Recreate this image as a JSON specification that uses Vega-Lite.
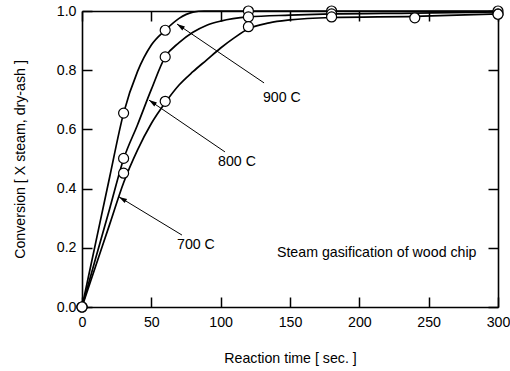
{
  "$schema": "https://vega.github.io/schema/vega-lite/v6.json",
  "autosize": "none",
  "width": 416,
  "height": 296,
  "padding": {"left": 82, "top": 11, "right": 12, "bottom": 64},
  "background": "white",
  "config": {
    "view": {"stroke": null},
    "font": "Liberation Sans",
    "axis": {
      "domainColor": "black", "domainWidth": 1.6,
      "tickColor": "black", "tickWidth": 1.5, "tickSize": -10,
      "labelFont": "Liberation Sans", "labelFontSize": 14.2, "labelColor": "black", "labelFlush": false,
      "titleFont": "Liberation Sans", "titleFontSize": 14.2, "titleColor": "black", "titleFontWeight": "normal",
      "grid": false
    }
  },
  "datasets": {
    "curves": [
      {"series": "900 C", "t": 0, "v": 0},
      {"series": "900 C", "t": 10, "v": 0.22},
      {"series": "900 C", "t": 20, "v": 0.44},
      {"series": "900 C", "t": 30, "v": 0.655},
      {"series": "900 C", "t": 40, "v": 0.795},
      {"series": "900 C", "t": 50, "v": 0.885},
      {"series": "900 C", "t": 60, "v": 0.935},
      {"series": "900 C", "t": 70, "v": 0.975},
      {"series": "900 C", "t": 80, "v": 0.996},
      {"series": "900 C", "t": 88, "v": 1.0},
      {"series": "900 C", "t": 120, "v": 1.0},
      {"series": "900 C", "t": 180, "v": 1.0},
      {"series": "900 C", "t": 300, "v": 1.0},
      {"series": "800 C", "t": 0, "v": 0},
      {"series": "800 C", "t": 10, "v": 0.167},
      {"series": "800 C", "t": 20, "v": 0.333},
      {"series": "800 C", "t": 30, "v": 0.5},
      {"series": "800 C", "t": 40, "v": 0.615},
      {"series": "800 C", "t": 50, "v": 0.735},
      {"series": "800 C", "t": 60, "v": 0.845},
      {"series": "800 C", "t": 70, "v": 0.893},
      {"series": "800 C", "t": 80, "v": 0.928},
      {"series": "800 C", "t": 90, "v": 0.952},
      {"series": "800 C", "t": 100, "v": 0.966},
      {"series": "800 C", "t": 120, "v": 0.98},
      {"series": "800 C", "t": 150, "v": 0.986},
      {"series": "800 C", "t": 180, "v": 0.99},
      {"series": "800 C", "t": 240, "v": 0.993},
      {"series": "800 C", "t": 300, "v": 0.997},
      {"series": "700 C", "t": 0, "v": 0},
      {"series": "700 C", "t": 10, "v": 0.14},
      {"series": "700 C", "t": 20, "v": 0.28},
      {"series": "700 C", "t": 30, "v": 0.42},
      {"series": "700 C", "t": 40, "v": 0.53},
      {"series": "700 C", "t": 50, "v": 0.62},
      {"series": "700 C", "t": 60, "v": 0.69},
      {"series": "700 C", "t": 70, "v": 0.75},
      {"series": "700 C", "t": 80, "v": 0.795},
      {"series": "700 C", "t": 90, "v": 0.835},
      {"series": "700 C", "t": 100, "v": 0.875},
      {"series": "700 C", "t": 110, "v": 0.91},
      {"series": "700 C", "t": 120, "v": 0.94},
      {"series": "700 C", "t": 135, "v": 0.96},
      {"series": "700 C", "t": 150, "v": 0.97},
      {"series": "700 C", "t": 180, "v": 0.978},
      {"series": "700 C", "t": 240, "v": 0.982},
      {"series": "700 C", "t": 300, "v": 0.99}
    ],
    "points": [
      {"series": "900 C", "t": 0, "v": 0},
      {"series": "900 C", "t": 30, "v": 0.655},
      {"series": "900 C", "t": 60, "v": 0.935},
      {"series": "900 C", "t": 120, "v": 1.0},
      {"series": "900 C", "t": 180, "v": 1.0},
      {"series": "900 C", "t": 300, "v": 1.0},
      {"series": "800 C", "t": 0, "v": 0},
      {"series": "800 C", "t": 30, "v": 0.502},
      {"series": "800 C", "t": 60, "v": 0.845},
      {"series": "800 C", "t": 120, "v": 0.98},
      {"series": "800 C", "t": 180, "v": 0.99},
      {"series": "800 C", "t": 300, "v": 0.99},
      {"series": "700 C", "t": 0, "v": 0},
      {"series": "700 C", "t": 30, "v": 0.452},
      {"series": "700 C", "t": 60, "v": 0.695},
      {"series": "700 C", "t": 120, "v": 0.947},
      {"series": "700 C", "t": 180, "v": 0.98},
      {"series": "700 C", "t": 240, "v": 0.977},
      {"series": "700 C", "t": 300, "v": 0.989}
    ],
    "arrows": [
      {"series": "900 C", "t1": 131.3, "v1": 0.757, "t2": 68.5, "v2": 0.956},
      {"series": "800 C", "t1": 103.1, "v1": 0.524, "t2": 48.3, "v2": 0.699},
      {"series": "700 C", "t1": 72.1, "v1": 0.243, "t2": 26.7, "v2": 0.372}
    ],
    "labels": [
      {"text": "900 C", "t": 130.5, "v": 0.706},
      {"text": "800 C", "t": 98.1, "v": 0.491},
      {"text": "700 C", "t": 68.5, "v": 0.209},
      {"text": "Steam gasification of wood chip", "t": 140.6, "v": 0.182}
    ]
  },
  "resolve": {"axis": {"x": "independent", "y": "independent"}},
  "layer": [
    {
      "data": {"name": "curves"},
      "mark": {"type": "line", "color": "black", "strokeWidth": 1.7, "interpolate": "monotone", "clip": false},
      "encoding": {
        "x": {"field": "t", "type": "quantitative", "scale": {"domain": [0, 300], "nice": false},
          "axis": {"orient": "bottom", "values": [0, 50, 100, 150, 200, 250, 300], "format": "d", "labelPadding": 18,
            "title": "Reaction time [ sec. ]", "titleY": 51, "titleBaseline": "middle"}},
        "y": {"field": "v", "type": "quantitative", "scale": {"domain": [0, 1], "nice": false},
          "axis": {"orient": "left", "values": [0, 0.2, 0.4, 0.6, 0.8, 1.0], "format": ".1f", "labelPadding": 16,
            "title": "Conversion [ X steam, dry-ash ]", "titleX": -62, "titleBaseline": "middle"}},
        "detail": {"field": "series"}
      }
    },
    {
      "data": {"name": "arrows"},
      "mark": {"type": "rule", "color": "black", "strokeWidth": 1},
      "encoding": {
        "x": {"field": "t1", "type": "quantitative", "axis": {"orient": "top", "values": [0, 50, 100, 150, 200, 250, 300], "labels": false, "title": null}},
        "y": {"field": "v1", "type": "quantitative", "axis": {"orient": "right", "values": [0, 0.2, 0.4, 0.6, 0.8, 1.0], "labels": false, "title": null}},
        "x2": {"field": "t2"},
        "y2": {"field": "v2"}
      }
    },
    {
      "data": {"name": "arrows"},
      "transform": [{"filter": "datum.series === '900 C'"}],
      "mark": {"type": "point", "shape": "M0,0L1.2,4L-1.2,4Z", "size": 16, "filled": true, "color": "black", "opacity": 1, "angle": 304},
      "encoding": {
        "x": {"field": "t2", "type": "quantitative", "axis": null},
        "y": {"field": "v2", "type": "quantitative", "axis": null}
      }
    },
    {
      "data": {"name": "arrows"},
      "transform": [{"filter": "datum.series === '800 C'"}],
      "mark": {"type": "point", "shape": "M0,0L1.2,4L-1.2,4Z", "size": 16, "filled": true, "color": "black", "opacity": 1, "angle": 304},
      "encoding": {
        "x": {"field": "t2", "type": "quantitative", "axis": null},
        "y": {"field": "v2", "type": "quantitative", "axis": null}
      }
    },
    {
      "data": {"name": "arrows"},
      "transform": [{"filter": "datum.series === '700 C'"}],
      "mark": {"type": "point", "shape": "M0,0L1.2,4L-1.2,4Z", "size": 16, "filled": true, "color": "black", "opacity": 1, "angle": 301},
      "encoding": {
        "x": {"field": "t2", "type": "quantitative", "axis": null},
        "y": {"field": "v2", "type": "quantitative", "axis": null}
      }
    },
    {
      "data": {"name": "points"},
      "mark": {"type": "point", "shape": "circle", "size": 100, "filled": true, "fill": "white", "stroke": "black", "strokeWidth": 1.2, "opacity": 1, "clip": false},
      "encoding": {
        "x": {"field": "t", "type": "quantitative", "axis": null},
        "y": {"field": "v", "type": "quantitative", "axis": null}
      }
    },
    {
      "data": {"name": "labels"},
      "mark": {"type": "text", "align": "left", "baseline": "middle", "font": "Liberation Sans", "fontSize": 14.2, "color": "black"},
      "encoding": {
        "x": {"field": "t", "type": "quantitative", "axis": null},
        "y": {"field": "v", "type": "quantitative", "axis": null},
        "text": {"field": "text"}
      }
    }
  ]
}
